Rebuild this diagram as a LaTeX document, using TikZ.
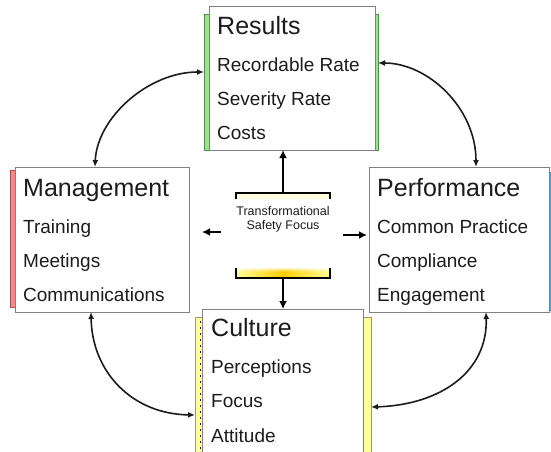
\documentclass[tikz,border=0pt]{standalone}
\usepackage{fontspec}
\setmainfont{Liberation Sans}
\usetikzlibrary{arrows.meta,fadings}

\definecolor{boxgray}{HTML}{808080}
\definecolor{ink}{HTML}{1C1C1C}
\definecolor{resfill}{HTML}{9EE08E}
\definecolor{resline}{HTML}{4E8F4E}
\definecolor{mgtfill}{HTML}{F08A8A}
\definecolor{mgtline}{HTML}{B05050}
\definecolor{perffill}{HTML}{4BA3D8}
\definecolor{perfline}{HTML}{2F7FB0}
\definecolor{culfill}{HTML}{FFFF99}
\definecolor{culline}{HTML}{9A9A70}

\tikzset{
  panel/.style={draw=boxgray, line width=0.8pt, fill=white, inner sep=0pt, outer sep=0pt},
  tab/.style={line width=0.8pt, inner sep=0pt, outer sep=0pt},
  heading/.style={anchor=base west, inner sep=0pt, text=ink, font=\fontsize{25}{28}\selectfont},
  entry/.style={anchor=base west, inner sep=0pt, text=ink, font=\fontsize{19}{22}\selectfont},
  cycle/.style={line width=1.6pt, draw=ink, <->, >={Latex[length=7pt,width=6pt]}},
  push/.style={line width=2.2pt, draw=black, ->, >={Latex[length=8pt,width=8pt]}},
  bracket/.style={line width=1.6pt, draw=black}
}

\begin{document}
\begin{tikzpicture}[x=1pt,y=-1pt]
\useasboundingbox (0,0) rectangle (551,452);
\clip (0,0) rectangle (551,452);

% coloured tabs behind the four panels
\node[tab, fill=resfill, draw=resline, minimum width=174pt, minimum height=136pt] (resbg) at (291,82) {};
\node[tab, fill=mgtfill, draw=mgtline, minimum width=15pt, minimum height=137pt] (mgtbg) at (17.5,238.5) {};
\node[tab, fill=perffill, draw=perfline, minimum width=16pt, minimum height=138pt] (perfbg) at (543.5,241) {};
\node[tab, fill=culfill, draw=culline, minimum width=176pt, minimum height=153pt] (culbg) at (283,393.5) {};

% white panels
\node[panel, minimum width=166pt, minimum height=144pt] (res) at (292,78) {};
\node[panel, minimum width=174pt, minimum height=145pt] (mgt) at (102,239.5) {};
\node[panel, minimum width=180pt, minimum height=145pt] (perf) at (459,239.5) {};
\node[panel, minimum width=161pt, minimum height=161pt] (cul) at (282.5,389.5) {};
\draw[ink, line width=0.8pt, dash pattern=on 2pt off 4pt] (200.5,321) -- (200.5,452);

% Results
\node[heading] (res-t) at (217,35) {Results};
\node[entry] (res-1) at (217,71) {Recordable Rate};
\node[entry] (res-2) at (217,105) {Severity Rate};
\node[entry] (res-3) at (217,139) {Costs};

% Management
\node[heading] (mgt-t) at (23,196) {Management};
\node[entry] (mgt-1) at (23,233) {Training};
\node[entry] (mgt-2) at (23,267) {Meetings};
\node[entry] (mgt-3) at (23,301) {Communications};

% Performance
\node[heading] (perf-t) at (377,196) {Performance};
\node[entry] (perf-1) at (377,233) {Common Practice};
\node[entry] (perf-2) at (377,267) {Compliance};
\node[entry] (perf-3) at (377,301) {Engagement};

% Culture
\node[heading] (cul-t) at (211,336) {Culture};
\node[entry] (cul-1) at (211,373) {Perceptions};
\node[entry] (cul-2) at (211,407) {Focus};
\node[entry] (cul-3) at (211,442) {Attitude};

% central focus: brackets, glow and label
\fill[yellow!14] (236,194) rectangle (330,198.5);
\shade[left color=yellow!40, right color=yellow!40, middle color=orange!40!yellow] (236,268) rectangle (330,278);
\fill[white, path fading=south] (236,267) rectangle (330,271.5);
\draw[bracket] (236,199) -- (236,193) -- (330,193) -- (330,199);
\draw[bracket] (236,268) -- (236,278) -- (330,278) -- (330,268);
\coordinate (brt) at (283,193);
\coordinate (brb) at (283,278);
\node[align=center, inner sep=0pt, text=ink, font=\fontsize{12.5}{14}\selectfont] (tsf) at (283,219) {Transformational\\Safety Focus};

\draw[push] (brt) -- (brt |- res.south);
\draw[push] (brb) -- (brb |- cul.north);
\coordinate (lt) at (221,232);
\coordinate (lh) at (202,232);
\coordinate (rt) at (343,235);
\coordinate (rh) at (367,235);
\draw[push] (lt) -- (lh);
\draw[push] (rt) -- (rh);

% cycle between the four panels
\draw[cycle] (95,0 |- mgt.north) .. controls (97,118) and (148,72) .. (resbg.west |- 0,72);
\draw[cycle] (resbg.east |- 0,63) .. controls (428,63) and (476,108) .. (476,0 |- perf.north);
\draw[cycle] (91,0 |- mgt.south) .. controls (92,372) and (132,414) .. (culbg.west |- 0,415);
\draw[cycle] (486,0 |- perf.south) .. controls (488,372) and (440,405) .. (culbg.east |- 0,407);
\end{tikzpicture}
\end{document}
